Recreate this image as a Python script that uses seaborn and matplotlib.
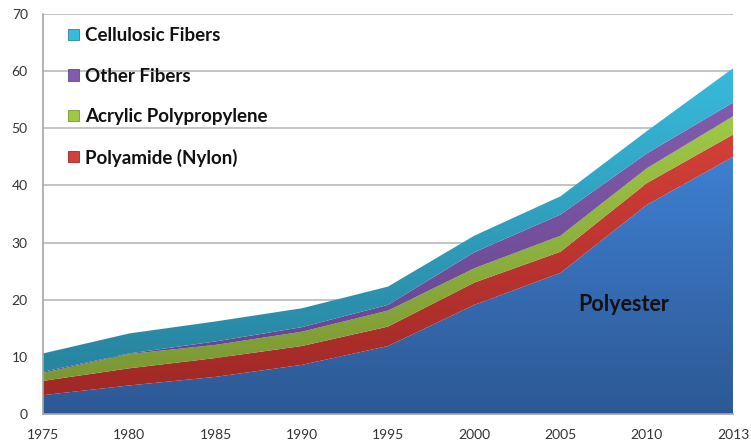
import numpy as np
import matplotlib
matplotlib.use("Agg")
import matplotlib.pyplot as plt
import seaborn as sns
from matplotlib.colors import LinearSegmentedColormap
from matplotlib.patches import Polygon, Patch

# ---------------------------------------------------------------------------
# Data (million tonnes), stacked from bottom to top
# ---------------------------------------------------------------------------
years = ["1975", "1980", "1985", "1990", "1995", "2000", "2005", "2010", "2013"]
polyester = [3.3, 5.0, 6.5, 8.6, 11.9, 19.1, 24.7, 36.6, 45.0]
polyamide = [2.5, 3.0, 3.3, 3.3, 3.4, 3.9, 3.7, 3.8, 3.9]
acrylic_pp = [1.4, 2.5, 2.3, 2.5, 2.8, 2.5, 2.8, 2.6, 3.2]
other = [0.2, 0.1, 0.6, 0.8, 1.0, 2.8, 3.7, 2.6, 2.4]
cellulosic = [3.2, 3.5, 3.5, 3.3, 3.2, 2.9, 3.2, 3.9, 6.0]

series = [
    ("Polyester", polyester, "#2D5894", "#3E80D2"),
    ("Polyamide (Nylon)", polyamide, "#A02826", "#D44038"),
    ("Acrylic Polypropylene", acrylic_pp, "#7A9834", "#9FC847"),
    ("Other Fibers", other, "#66448C", "#815CAE"),
    ("Cellulosic Fibers", cellulosic, "#28849F", "#38BADB"),
]

sns.set_style("white")
plt.rcParams["font.family"] = ["Lato", "DejaVu Sans"]

fig = plt.figure(figsize=(7.51, 4.46), dpi=100)
ax = fig.add_axes([0.0573, 0.0717, 0.9187, 0.8969])

x = np.arange(len(years))
base = np.zeros(len(years))
handles = []
grad = np.linspace(0, 1, 256).reshape(-1, 1)
for name, vals, dark, light in series:
    top = base + np.array(vals)
    verts = np.vstack([np.column_stack([x, top]), np.column_stack([x[::-1], base[::-1]])])
    poly = Polygon(verts, closed=True, facecolor="none", edgecolor="none")
    ax.add_patch(poly)
    cmap = LinearSegmentedColormap.from_list(name, [dark, light])
    im = ax.imshow(grad, extent=[x[0], x[-1], base.min(), top.max()], origin="lower",
                   aspect="auto", cmap=cmap, zorder=2, interpolation="bicubic")
    im.set_clip_path(poly)
    if name != "Polyester":
        handles.append(Patch(facecolor=light, edgecolor=dark, linewidth=0.6, label=name))
    base = top

ax.set_xlim(x[0], x[-1])
ax.set_ylim(0, 70)
ax.set_yticks(range(0, 71, 10))
ax.set_xticks(x)
ax.set_xticklabels(years)
ax.yaxis.grid(True, color="#BEBEBE", linewidth=1.3)
ax.xaxis.grid(False)
ax.set_axisbelow(True)
for s in ["top", "right"]:
    ax.spines[s].set_visible(False)
for s in ["left", "bottom"]:
    ax.spines[s].set_color("#A6A6A6")
    ax.spines[s].set_linewidth(1.2)
    ax.spines[s].set_zorder(3)
ax.tick_params(axis="both", which="both", length=5, width=1.2, color="#A6A6A6",
               labelsize=10, labelcolor="#333333", direction="out")
ax.tick_params(axis="y", pad=6)
ax.tick_params(axis="x", pad=6)

ax.text(6.73, 19.1, "Polyester", fontsize=15.5, fontweight="bold", color="#111111",
        ha="center", va="center", zorder=4)

leg = ax.legend(handles=handles[::-1], loc="upper left", bbox_to_anchor=(0.026, 0.986),
                frameon=False, fontsize=13.5, handlelength=0.55, handleheight=0.55,
                handletextpad=0.35, labelspacing=1.25, borderaxespad=0)
for t in leg.get_texts():
    t.set_fontweight("bold")
    t.set_color("#111111")

fig.savefig("out.png", dpi=100)
